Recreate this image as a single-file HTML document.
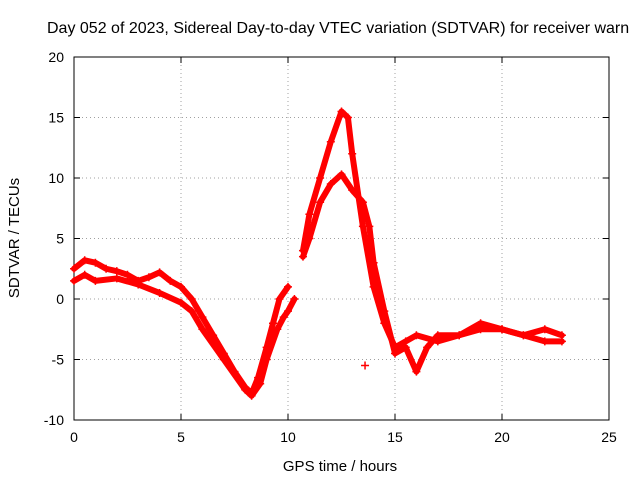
<!DOCTYPE html>
<html><head><meta charset="utf-8"><style>
body{margin:0;background:#fff}
svg{display:block;font-family:"Liberation Sans",sans-serif}
</style></head><body>
<svg id="chart" width="640" height="480">
<rect width="640" height="480" fill="#fff"/>
<text x="47" y="33" font-size="16" text-anchor="start">Day 052 of 2023, Sidereal Day-to-day VTEC variation (SDTVAR) for receiver warn</text>
<g id="grid"></g>
<g id="axes"></g>
<g id="marks"></g>
<text x="340" y="471" font-size="15" text-anchor="middle">GPS time / hours</text>
<text transform="translate(19,238) rotate(-90)" font-size="15" text-anchor="middle">SDTVAR / TECUs</text>
</svg>
<script>
const xTicks=[0,5,10,15,20,25];
const yTicks=[-10,-5,0,5,10,15,20];
const tA=[0,0.5,1,1.5,2,2.5,3,3.5,4,4.5,5,5.5,6,6.5,7,7.5,8,8.3,8.6,9,9.3,9.6,10];
const vA=[2.5,3.2,3,2.5,2.3,2,1.5,1.8,2.2,1.5,1,0,-1.5,-3,-4.5,-6,-7.3,-7.8,-6.5,-4,-2,0,1];
const tA2=[10.7,11,11.5,12,12.5,12.8,13,13.5,14,14.5,15,15.5,16,17,18,19,20,21,22,22.8];
const vA2=[4,7,10,13,15.5,15,12,6,1,-2,-4,-3.5,-3,-3.5,-3,-2.5,-2.5,-3,-2.5,-3];
const tB=[0,0.5,1,2,3,4,5,5.5,6,7,8,8.3,8.7,9,9.5,9.8,10,10.3];
const vB=[1.5,2,1.5,1.7,1.2,0.5,-0.3,-1,-2.5,-5,-7.5,-8,-7,-5,-2.5,-1.5,-1,0];
const tB2=[10.7,11,11.5,12,12.5,13,13.5,13.8,14,14.5,15,15.5,16,16.5,17,18,19,20,21,22,22.8];
const vB2=[3.5,5,8,9.5,10.3,9,8,6,3,-1,-4.5,-4,-6,-4,-3,-3,-2,-2.5,-3,-3.5,-3.5];
const tOut=[13.6];
const vOut=[-5.5];
const L=74,R=609,T=57,B=420;
const X=v=>L+(v-0)/25*(R-L);
const Y=v=>B-(v+10)/30*(B-T);
const NS="http://www.w3.org/2000/svg";
const grid=document.getElementById('grid'),axes=document.getElementById('axes'),marks=document.getElementById('marks');
function mk(tag,attrs,parent){const e=document.createElementNS(NS,tag);for(const k in attrs)e.setAttribute(k,attrs[k]);parent.appendChild(e);return e;}
xTicks.forEach(t=>{
 if(t>0&&t<25){const g=mk('line',{x1:X(t),x2:X(t),y1:T,y2:B,stroke:'#a0a0a0','stroke-dasharray':'1,3'},grid);
 
 }
 const tx=mk('text',{x:X(t),y:B+22,'font-size':14,'text-anchor':'middle'},axes);tx.textContent=t;
 
 
 mk('line',{x1:X(t),x2:X(t),y1:B,y2:B-6,stroke:'#000'},axes);
 mk('line',{x1:X(t),x2:X(t),y1:T,y2:T+6,stroke:'#000'},axes);
});
yTicks.forEach(t=>{
 if(t>-10&&t<20){const g=mk('line',{x1:L,x2:R,y1:Y(t),y2:Y(t),stroke:'#a0a0a0','stroke-dasharray':'1,3'},grid);
 
 }
 const tx=mk('text',{x:L-10,y:Y(t)+5,'font-size':14,'text-anchor':'end'},axes);tx.textContent=t;
 
 
 mk('line',{x1:L,x2:L+6,y1:Y(t),y2:Y(t),stroke:'#000'},axes);
 mk('line',{x1:R,x2:R-6,y1:Y(t),y2:Y(t),stroke:'#000'},axes);
});
mk('rect',{x:L,y:T,width:R-L,height:B-T,fill:'none',stroke:'#000'},axes);
function plus(x,y){mk('path',{d:`M${x-4},${y}h8M${x},${y-4}v8`,stroke:'#ff0000','stroke-width':1.5},marks);}
function track(ts,vs){
 const pts=ts.map((t,i)=>X(t)+','+Y(vs[i])).join(' ');
 const p=mk('polyline',{points:pts,fill:'none',stroke:'#ff0000','stroke-width':6,'stroke-linejoin':'round','stroke-linecap':'round'},marks);
 
 
 ts.forEach((t,i)=>plus(X(t),Y(vs[i])));
}
track(tA,vA);track(tA2,vA2);track(tB,vB);track(tB2,vB2);
tOut.forEach((t,i)=>plus(X(t),Y(vOut[i])));
</script>
</body></html>
